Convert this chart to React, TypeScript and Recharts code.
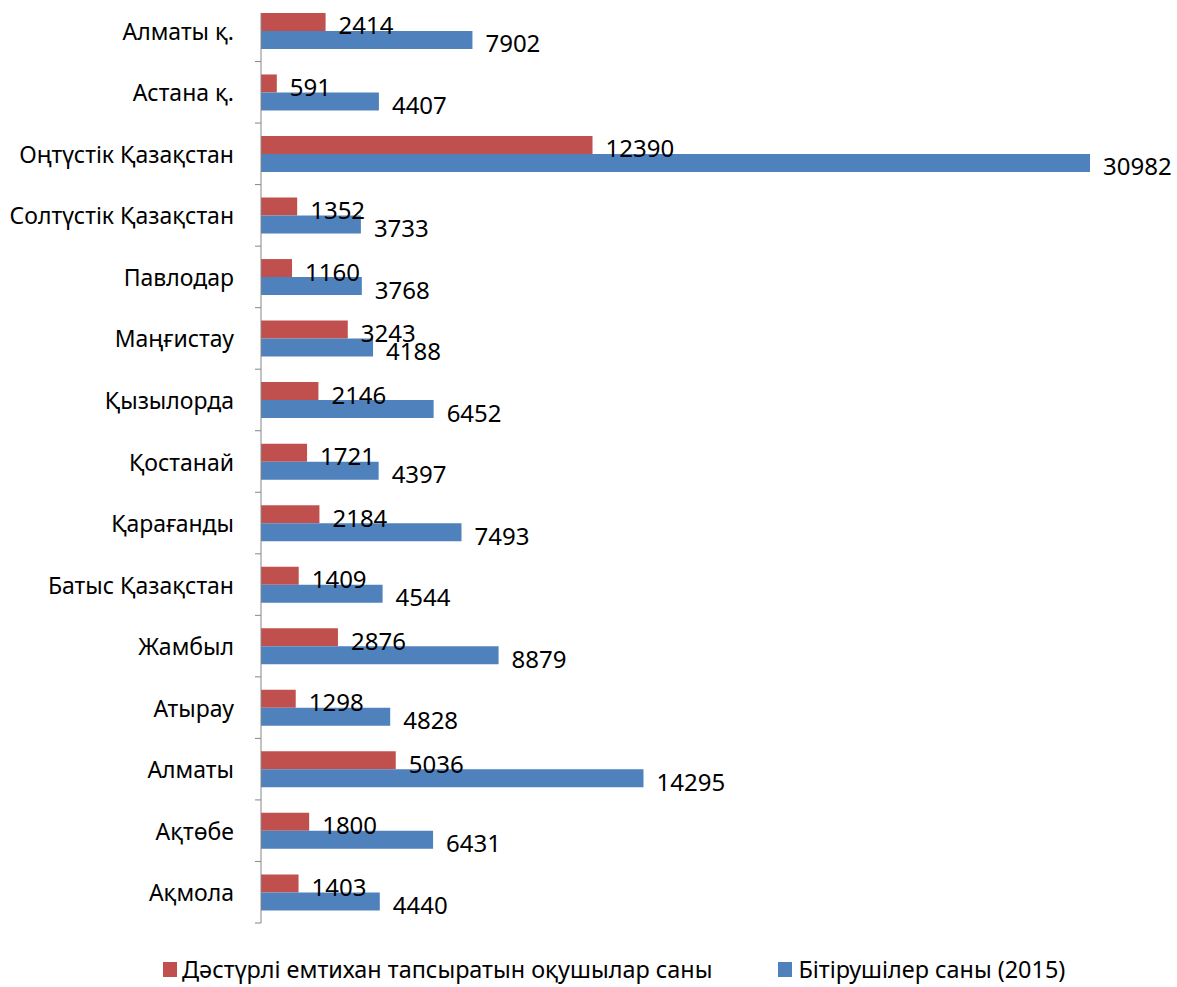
import React from "react";
import { BarChart, Bar, XAxis, YAxis, LabelList } from "recharts";

const categories = [
  "Алматы қ.",
  "Астана қ.",
  "Оңтүстік Қазақстан",
  "Солтүстік Қазақстан",
  "Павлодар",
  "Маңғистау",
  "Қызылорда",
  "Қостанай",
  "Қарағанды",
  "Батыс Қазақстан",
  "Жамбыл",
  "Атырау",
  "Алматы",
  "Ақтөбе",
  "Ақмола",
];

const traditionalExam = [2414, 591, 12390, 1352, 1160, 3243, 2146, 1721, 2184, 1409, 2876, 1298, 5036, 1800, 1403];
const graduates = [7902, 4407, 30982, 3733, 3768, 4188, 6452, 4397, 7493, 4544, 8879, 4828, 14295, 6431, 4440];

const seriesNames = ["Дәстүрлі емтихан тапсыратын оқушылар саны", "Бітірушілер саны (2015)"];

const RED = "#C0504D";
const BLUE = "#4F81BD";
const AXIS = "#868686";
const FONT = "'Noto Sans', sans-serif";

const TICK_SIZE = 6;
const TICK_MARGIN = 21;

const data = categories.map((name, i) => ({
  name,
  traditional: traditionalExam[i],
  graduates: graduates[i],
}));

// category label + axis segment + tick marks between categories (like Excel)
function CategoryTick(props: any) {
  const { x, y, payload, index, visibleTicksCount } = props;
  const half = payload.offset ?? 0;
  const axisX = x + TICK_MARGIN + TICK_SIZE;
  const isLast = index === visibleTicksCount - 1;
  return (
    <g>
      <line
        x1={axisX}
        x2={axisX}
        y1={index === 0 ? y - half * 0.58 : y - half}
        y2={y + half}
        stroke={AXIS}
      />
      {index > 0 && (
        <line x1={axisX - TICK_SIZE} x2={axisX} y1={y - half} y2={y - half} stroke={AXIS} />
      )}
      {isLast && (
        <line x1={axisX - TICK_SIZE} x2={axisX} y1={y + half} y2={y + half} stroke={AXIS} />
      )}
      <text
        x={x}
        y={y}
        textAnchor="end"
        dominantBaseline="central"
        fontFamily={FONT}
        fontSize={23}
        fill="#000"
      >
        {payload.value}
      </text>
    </g>
  );
}

function ValueLabel(props: any) {
  const { x, y, width, height, value } = props;
  return (
    <text
      x={x + width + 13}
      y={y + height / 2 + 3}
      dominantBaseline="central"
      fontFamily={FONT}
      fontSize={24}
      fill="#000"
    >
      {value}
    </text>
  );
}

export default function App() {
  return (
    <div style={{ position: "absolute", left: 0, top: 0, width: 1177, height: 987, background: "#fff" }}>
      <BarChart
        width={1177}
        height={987}
        data={data}
        layout="vertical"
        margin={{ top: 0, right: 87, bottom: 64, left: 0 }}
        barCategoryGap="21%"
        barGap={0}
      >
        <XAxis type="number" domain={[0, 30982]} hide />
        <YAxis
          type="category"
          dataKey="name"
          width={261}
          axisLine={false}
          tickLine={false}
          tickSize={TICK_SIZE}
          tickMargin={TICK_MARGIN}
          interval={0}
          tick={<CategoryTick />}
        />
        <Bar dataKey="traditional" name={seriesNames[0]} fill={RED} isAnimationActive={false}>
          <LabelList dataKey="traditional" content={<ValueLabel />} />
        </Bar>
        <Bar dataKey="graduates" name={seriesNames[1]} fill={BLUE} isAnimationActive={false}>
          <LabelList dataKey="graduates" content={<ValueLabel />} />
        </Bar>
      </BarChart>
      <div
        style={{
          position: "absolute",
          top: 957,
          left: 163,
          height: 24,
          lineHeight: "24px",
          display: "flex",
          alignItems: "center",
          fontFamily: FONT,
          fontSize: 23.4,
          color: "#000",
          whiteSpace: "nowrap",
        }}
      >
        <span style={{ width: 14, height: 15, background: RED, marginRight: 5, display: "inline-block" }} />
        <span>{seriesNames[0]}</span>
        <span style={{ width: 14, height: 15, background: BLUE, marginLeft: 66, marginRight: 6, display: "inline-block" }} />
        <span>{seriesNames[1]}</span>
      </div>
    </div>
  );
}
